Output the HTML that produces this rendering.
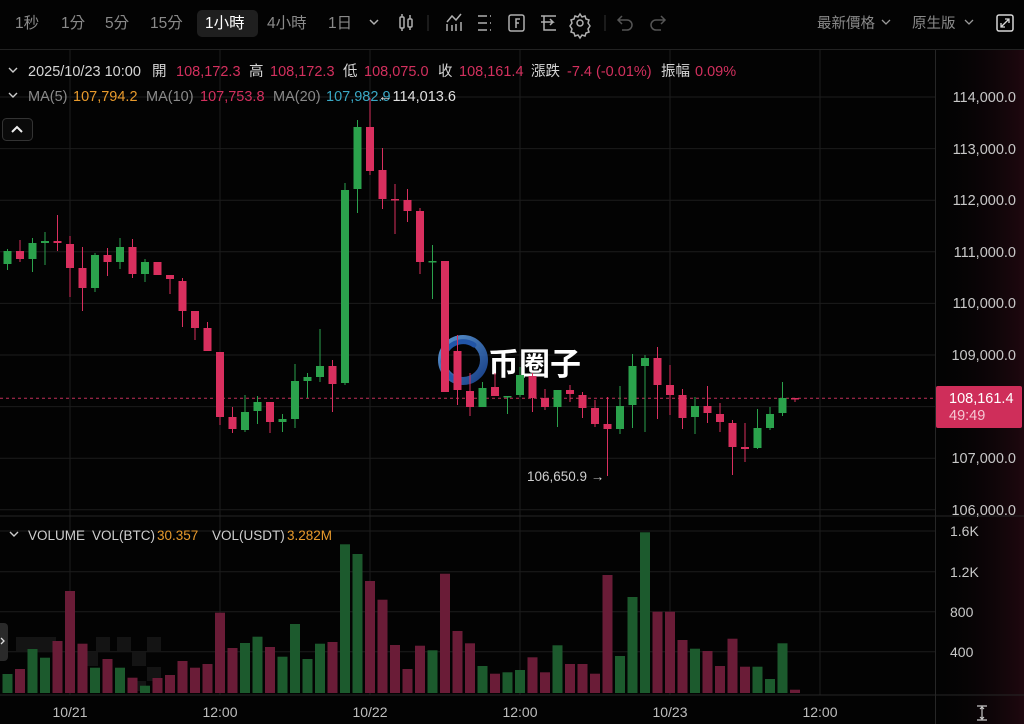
<!DOCTYPE html>
<html><head><meta charset="utf-8"><style>
html,body{margin:0;padding:0;background:#030303;}
svg{display:block;}
text{font-family:"Liberation Sans","Noto Sans CJK TC",sans-serif;}
</style></head><body>
<svg width="1024" height="724" viewBox="0 0 1024 724" xmlns="http://www.w3.org/2000/svg">
<defs>
<linearGradient id="rg" x1="0" y1="0" x2="1" y2="0">
<stop offset="0" stop-color="#030303" stop-opacity="0"/>
<stop offset="1" stop-color="#2a0a14" stop-opacity="0.7"/>
</linearGradient>
<linearGradient id="lg" x1="0" y1="0" x2="1" y2="1">
<stop offset="0" stop-color="#6fb6ff"/>
<stop offset="1" stop-color="#1d4fa8"/>
</linearGradient>
</defs>
<rect width="1024" height="724" fill="#030303"/>
<rect x="936" y="50" width="88" height="674" fill="url(#rg)"/>

<!-- toolbar -->
<g font-size="15.5" fill="#8a8a8a">
<text x="15" y="28">1秒</text>
<text x="61" y="28">1分</text>
<text x="105" y="28">5分</text>
<text x="150" y="28">15分</text>
<rect x="197" y="10" width="61" height="27" rx="5" fill="#1f1f1f"/>
<text x="205" y="28" fill="#ffffff">1小時</text>
<text x="267" y="28">4小時</text>
<text x="328" y="28">1日</text>
</g>
<g fill="none" stroke="#b0b0b0" stroke-width="1.5">
<path d="M370 20 L374 24 L378 20"/>
<rect x="400" y="17" width="4" height="11" rx="1"/><path d="M402 14v3M402 28v3"/>
<rect x="408" y="19" width="4" height="8" rx="1"/><path d="M410 15v4M410 27v3"/>
<path d="M447 31 L447 24 M447 22 L452 16 L456 20 L461 14 M452 31v-6 M456 31v-7 M461 31v-9"/>
<path d="M478 16h9 M478 23h9 M478 30h9 M490 16h1 M490 23h1 M490 30h1"/>
<rect x="509" y="15" width="15" height="16" rx="2"/><path d="M520 19 h-4 v9 M516 23 h3"/>
<path d="M541 16h15 M541 22h12 l-3 -3 M553 22 l-3 3 M544 16v14 h12"/>
<circle cx="580" cy="23" r="3"/>
<path d="M580 14 l2 3 3 -1 1 3 3 1 -1 3 2 3 -2 3 1 3 -3 1 -1 3 -3 -1 -2 3 -2 -3 -3 1 -1 -3 -3 -1 1 -3 -2 -3 2 -3 -1 -3 3 -1 1 -3 3 1z"/>
</g>
<line x1="605" y1="15" x2="605" y2="31" stroke="#333"/>
<line x1="428" y1="15" x2="428" y2="31" stroke="#333"/>
<g fill="none" stroke="#555" stroke-width="1.5">
<path d="M622 16 l-4 4 4 4 M618 20 h9 a5 5 0 0 1 0 10 h-5"/>
<path d="M661 16 l4 4 -4 4 M665 20 h-9 a5 5 0 0 0 0 10 h5"/>
</g>
<g font-size="14.5" fill="#8a8a8a">
<text x="817" y="28">最新價格</text>
<text x="912" y="28">原生版</text>
</g>
<g fill="none" stroke="#9a9a9a" stroke-width="1.3">
<path d="M882 20 L886 24 L890 20"/>
<path d="M965 20 L969 24 L973 20"/>
</g>
<rect x="997" y="15" width="16" height="16" rx="2" fill="none" stroke="#d8d8d8" stroke-width="1.5"/>
<path d="M1001 27 l8 -8 M1005 19 h4 v4 M1001 23 v4 h4" fill="none" stroke="#d8d8d8" stroke-width="1.3"/>

<line x1="0" y1="49.5" x2="1024" y2="49.5" stroke="#222"/>

<!-- grid -->
<g stroke="#1c1c1c" stroke-width="1">
<line x1="0" x2="935" y1="97" y2="97"/>
<line x1="0" x2="935" y1="148.6" y2="148.6"/>
<line x1="0" x2="935" y1="200.2" y2="200.2"/>
<line x1="0" x2="935" y1="251.8" y2="251.8"/>
<line x1="0" x2="935" y1="303.4" y2="303.4"/>
<line x1="0" x2="935" y1="355" y2="355"/>
<line x1="0" x2="935" y1="406.6" y2="406.6"/>
<line x1="0" x2="935" y1="458.2" y2="458.2"/>
<line x1="0" x2="935" y1="509.8" y2="509.8"/>
<line x1="0" x2="935" y1="531" y2="531"/>
<line x1="0" x2="935" y1="571.7" y2="571.7"/>
<line x1="0" x2="935" y1="611.7" y2="611.7"/>
<line x1="0" x2="935" y1="651.7" y2="651.7"/>
<line x1="70" x2="70" y1="50" y2="695"/>
<line x1="220" x2="220" y1="50" y2="695"/>
<line x1="370" x2="370" y1="50" y2="695"/>
<line x1="520" x2="520" y1="50" y2="695"/>
<line x1="670" x2="670" y1="50" y2="695"/>
<line x1="820" x2="820" y1="50" y2="695"/>
</g>
<line x1="0" x2="1024" y1="516" y2="516" stroke="#262626"/>
<line x1="0" x2="1024" y1="695" y2="695" stroke="#262626"/>
<line x1="935.5" x2="935.5" y1="50" y2="724" stroke="#262626"/>

<!-- info rows -->
<g font-size="14.5">
<path d="M9 68 l4 4 4 -4" fill="none" stroke="#ccc" stroke-width="1.4"/>
<text x="28" y="76" fill="#d6d6d6">2025/10/23 10:00</text>
<text x="152" y="76" fill="#d6d6d6">開</text>
<text x="176" y="76" fill="#d3305e">108,172.3</text>
<text x="249" y="76" fill="#d6d6d6">高</text>
<text x="270" y="76" fill="#d3305e">108,172.3</text>
<text x="343" y="76" fill="#d6d6d6">低</text>
<text x="364" y="76" fill="#d3305e">108,075.0</text>
<text x="438" y="76" fill="#d6d6d6">收</text>
<text x="459" y="76" fill="#d3305e">108,161.4</text>
<text x="531" y="76" fill="#d6d6d6">漲跌</text>
<text x="567" y="76" fill="#d3305e">-7.4 (-0.01%)</text>
<text x="661" y="76" fill="#d6d6d6">振幅</text>
<text x="695" y="76" fill="#d3305e">0.09%</text>
<path d="M9 93 l4 4 4 -4" fill="none" stroke="#ccc" stroke-width="1.4"/>
<text x="28" y="101" fill="#8a8a8a">MA(5)</text>
<text x="73" y="101" fill="#e89a2c">107,794.2</text>
<text x="146" y="101" fill="#8a8a8a">MA(10)</text>
<text x="200" y="101" fill="#d3305e">107,753.8</text>
<text x="273" y="101" fill="#8a8a8a">MA(20)</text>
<text x="326" y="101" fill="#3aa8c4">107,982.9</text>
<text x="378" y="101" fill="#e0e0e0">←114,013.6</text>
</g>

<!-- collapse button -->
<rect x="2.5" y="118.5" width="30" height="22" rx="4" fill="#0a0a0a" stroke="#333"/>
<path d="M12 132 l5 -5 5 5" fill="none" stroke="#eee" stroke-width="2"/>

<!-- price line -->
<line x1="0" x2="935" y1="398.3" y2="398.3" stroke="#c2305a" stroke-width="1" stroke-dasharray="3 3"/>

<!-- watermark -->
<g opacity="0.8">
<circle cx="463" cy="360" r="21" fill="none" stroke="url(#lg)" stroke-width="8"/>
<path d="M452 378 A14 14 0 0 1 474 345" fill="none" stroke="#2a6ad0" stroke-width="5" stroke-linecap="round"/>
</g>
<text x="488" y="375" font-size="31" font-weight="bold" fill="#ffffff" font-family="'Noto Sans CJK SC','WenQuanYi Zen Hei',sans-serif">币圈子</text>

<!-- candles green -->
<g fill="#2ba24c">
<rect x="7" y="249" width="1" height="21"/><rect x="3.5" y="251" width="8" height="13"/>
<rect x="32" y="238" width="1" height="34"/><rect x="28.5" y="243" width="8" height="16"/>
<rect x="44.5" y="232" width="1" height="33"/><rect x="41" y="241" width="8" height="2"/>
<rect x="94.5" y="253" width="1" height="39"/><rect x="91" y="255" width="8" height="33"/>
<rect x="119.5" y="238" width="1" height="31"/><rect x="116" y="247" width="8" height="15"/>
<rect x="144.5" y="259" width="1" height="23"/><rect x="141" y="262" width="8" height="12"/>
<rect x="244.5" y="395" width="1" height="37"/><rect x="241" y="412" width="8" height="18"/>
<rect x="257" y="396" width="1" height="28"/><rect x="253.5" y="402" width="8" height="9"/>
<rect x="282" y="414" width="1" height="18"/><rect x="278.5" y="419" width="8" height="3"/>
<rect x="294.5" y="364" width="1" height="64"/><rect x="291" y="381" width="8" height="38"/>
<rect x="307" y="373" width="1" height="25"/><rect x="303.5" y="377" width="8" height="4"/>
<rect x="319.5" y="329" width="1" height="53"/><rect x="316" y="366" width="8" height="11"/>
<rect x="344.5" y="183" width="1" height="202"/><rect x="341" y="190" width="8" height="193"/>
<rect x="357" y="120" width="1" height="93"/><rect x="353.5" y="127" width="8" height="62"/>
<rect x="432" y="245" width="1" height="54"/><rect x="428.5" y="261" width="8" height="1.5"/>
<rect x="482" y="382" width="1" height="25"/><rect x="478.5" y="388" width="8" height="19"/>
<rect x="507" y="396" width="1" height="18"/><rect x="503.5" y="396" width="8" height="1.5"/>
<rect x="519.5" y="367" width="1" height="30"/><rect x="516" y="375" width="8" height="20"/>
<rect x="557" y="390" width="1" height="37"/><rect x="553.5" y="390" width="8" height="17"/>
<rect x="619.5" y="386" width="1" height="48"/><rect x="616" y="406" width="8" height="23"/>
<rect x="632" y="354" width="1" height="74"/><rect x="628.5" y="366" width="8" height="39"/>
<rect x="644.5" y="355" width="1" height="77"/><rect x="641" y="358" width="8" height="8"/>
<rect x="694.5" y="397" width="1" height="37"/><rect x="691" y="406" width="8" height="11"/>
<rect x="757" y="409" width="1" height="40"/><rect x="753.5" y="428" width="8" height="20"/>
<rect x="769.5" y="407" width="1" height="23"/><rect x="766" y="414" width="8" height="14"/>
<rect x="782" y="382" width="1" height="34"/><rect x="778.5" y="398" width="8" height="15"/>
</g>
<!-- candles red -->
<g fill="#d92f5e">
<rect x="19.5" y="240" width="1" height="22"/><rect x="16" y="251" width="8" height="8"/>
<rect x="57" y="215" width="1" height="36"/><rect x="53.5" y="241" width="8" height="2"/>
<rect x="69.5" y="236" width="1" height="61"/><rect x="66" y="244" width="8" height="24"/>
<rect x="82" y="247" width="1" height="64"/><rect x="78.5" y="268" width="8" height="20"/>
<rect x="107" y="248" width="1" height="28"/><rect x="103.5" y="255" width="8" height="7"/>
<rect x="132" y="239" width="1" height="39"/><rect x="128.5" y="247" width="8" height="27"/>
<rect x="153.5" y="262" width="8" height="13"/>
<rect x="169.5" y="275" width="1" height="19"/><rect x="166" y="275" width="8" height="4"/>
<rect x="182" y="278" width="1" height="49"/><rect x="178.5" y="281" width="8" height="30"/>
<rect x="194.5" y="311" width="1" height="29"/><rect x="191" y="311" width="8" height="17"/>
<rect x="207" y="322" width="1" height="29"/><rect x="203.5" y="328" width="8" height="23"/>
<rect x="219.5" y="352" width="1" height="73"/><rect x="216" y="352" width="8" height="65"/>
<rect x="232" y="407" width="1" height="26"/><rect x="228.5" y="417" width="8" height="12"/>
<rect x="269.5" y="402" width="1" height="31"/><rect x="266" y="402" width="8" height="20"/>
<rect x="332" y="360" width="1" height="52"/><rect x="328.5" y="366" width="8" height="18"/>
<rect x="369.5" y="98" width="1" height="77"/><rect x="366" y="127" width="8" height="44"/>
<rect x="382" y="148" width="1" height="61"/><rect x="378.5" y="170" width="8" height="29"/>
<rect x="394.5" y="184" width="1" height="50"/><rect x="391" y="199" width="8" height="1.5"/>
<rect x="407" y="189" width="1" height="33"/><rect x="403.5" y="200" width="8" height="11"/>
<rect x="419.5" y="208" width="1" height="66"/><rect x="416" y="211" width="8" height="51"/>
<rect x="441" y="261" width="8" height="131"/>
<rect x="457" y="335" width="1" height="70"/><rect x="453.5" y="351" width="8" height="39"/>
<rect x="469.5" y="373" width="1" height="43"/><rect x="466" y="391" width="8" height="16"/>
<rect x="494.5" y="373" width="1" height="23"/><rect x="491" y="387" width="8" height="9"/>
<rect x="532" y="373" width="1" height="39"/><rect x="528.5" y="376" width="8" height="22"/>
<rect x="544.5" y="389" width="1" height="21"/><rect x="541" y="398" width="8" height="9"/>
<rect x="569.5" y="385" width="1" height="17"/><rect x="566" y="390" width="8" height="4"/>
<rect x="582" y="392" width="1" height="26"/><rect x="578.5" y="395" width="8" height="13"/>
<rect x="594.5" y="400" width="1" height="27"/><rect x="591" y="408" width="8" height="16"/>
<rect x="607" y="397" width="1" height="79"/><rect x="603.5" y="424" width="8" height="5"/>
<rect x="657" y="347" width="1" height="72"/><rect x="653.5" y="358" width="8" height="27"/>
<rect x="669.5" y="365" width="1" height="50"/><rect x="666" y="385" width="8" height="10"/>
<rect x="682" y="389" width="1" height="40"/><rect x="678.5" y="395" width="8" height="23"/>
<rect x="707" y="386" width="1" height="37"/><rect x="703.5" y="406" width="8" height="7"/>
<rect x="719.5" y="403" width="1" height="29"/><rect x="716" y="414" width="8" height="8"/>
<rect x="732" y="420" width="1" height="55"/><rect x="728.5" y="423" width="8" height="24"/>
<rect x="744.5" y="423" width="1" height="39"/><rect x="741" y="447" width="8" height="2"/>
<rect x="794.5" y="398" width="1" height="4"/><rect x="791" y="398" width="8" height="1.5"/>
</g>

<text x="527" y="481" font-size="13.5" fill="#cfcfcf">106,650.9 →</text>

<!-- price axis labels -->
<g font-size="14.5" fill="#c8c8c8" text-anchor="end">
<text x="1016" y="102">114,000.0</text>
<text x="1016" y="154">113,000.0</text>
<text x="1016" y="205">112,000.0</text>
<text x="1016" y="257">111,000.0</text>
<text x="1016" y="308">110,000.0</text>
<text x="1016" y="360">109,000.0</text>
<text x="1016" y="463">107,000.0</text>
<text x="1016" y="515">106,000.0</text>
</g>
<rect x="936" y="386" width="86" height="42" rx="2" fill="#cf2e5a"/>
<text x="949" y="403" font-size="14.5" fill="#ffffff">108,161.4</text>
<text x="949" y="420" font-size="14.5" fill="#f5c6d3">49:49</text>

<!-- volume header -->
<g font-size="13.5">
<path d="M10 532 l4 4 4 -4" fill="none" stroke="#ccc" stroke-width="1.4"/>
<text x="28" y="540" fill="#cfcfcf">VOLUME</text>
<text x="92" y="540" fill="#cfcfcf">VOL(BTC)</text>
<text x="157" y="540" fill="#e89a2c">30.357</text>
<text x="212" y="540" fill="#cfcfcf">VOL(USDT)</text>
<text x="287" y="540" fill="#e89a2c">3.282M</text>
</g>

<!-- checker overlay -->
<g fill="#141414">
<rect x="16" y="637" width="20" height="14"/><rect x="36" y="637" width="20" height="14"/>
<rect x="96" y="637" width="14" height="14"/><rect x="117" y="637" width="14" height="14"/><rect x="147" y="637" width="14" height="14"/>
<rect x="132" y="652" width="14" height="14"/><rect x="86" y="652" width="12" height="14"/>
<rect x="147" y="667" width="14" height="14"/><rect x="132" y="681" width="14" height="10"/>
</g>

<!-- volume bars green -->
<g fill="#1c5a2d">
<rect x="2.5" y="674" width="10" height="19"/>
<rect x="27.5" y="649" width="10" height="44"/>
<rect x="40" y="657.7" width="10" height="35.3"/>
<rect x="90" y="667.7" width="10" height="25.3"/>
<rect x="115" y="667.7" width="10" height="25.3"/>
<rect x="140" y="685.7" width="10" height="7.3"/>
<rect x="240" y="643" width="10" height="50"/>
<rect x="252.5" y="636.7" width="10" height="56.3"/>
<rect x="277.5" y="656.7" width="10" height="36.3"/>
<rect x="290" y="624" width="10" height="69"/>
<rect x="302.5" y="659" width="10" height="34"/>
<rect x="315" y="643.7" width="10" height="49.3"/>
<rect x="340" y="544.3" width="10" height="148.7"/>
<rect x="352.5" y="554" width="10" height="139"/>
<rect x="427.5" y="650.3" width="10" height="42.7"/>
<rect x="477.5" y="666" width="10" height="27"/>
<rect x="502.5" y="672.3" width="10" height="20.7"/>
<rect x="515" y="670" width="10" height="23"/>
<rect x="552.5" y="645.3" width="10" height="47.7"/>
<rect x="615" y="656" width="10" height="37"/>
<rect x="627.5" y="597" width="10" height="96"/>
<rect x="640" y="532.3" width="10" height="160.7"/>
<rect x="690" y="648.7" width="10" height="44.3"/>
<rect x="752.5" y="666.7" width="10" height="26.3"/>
<rect x="765" y="679" width="10" height="14"/>
<rect x="777.5" y="643.3" width="10" height="49.7"/>
</g>
<!-- volume bars red -->
<g fill="#6a1c37">
<rect x="15" y="669" width="10" height="24"/>
<rect x="52.5" y="641" width="10" height="52"/>
<rect x="65" y="591" width="10" height="102"/>
<rect x="77.5" y="643.7" width="10" height="49.3"/>
<rect x="102.5" y="659" width="10" height="34"/>
<rect x="127.5" y="677.7" width="10" height="15.3"/>
<rect x="152.5" y="678" width="10" height="15"/>
<rect x="165" y="675" width="10" height="18"/>
<rect x="177.5" y="661" width="10" height="32"/>
<rect x="190" y="667.7" width="10" height="25.3"/>
<rect x="202.5" y="664" width="10" height="29"/>
<rect x="215" y="612.7" width="10" height="80.3"/>
<rect x="227.5" y="648" width="10" height="45"/>
<rect x="265" y="647" width="10" height="46"/>
<rect x="327.5" y="642" width="10" height="51"/>
<rect x="365" y="581" width="10" height="112"/>
<rect x="377.5" y="599.7" width="10" height="93.3"/>
<rect x="390" y="645" width="10" height="48"/>
<rect x="402.5" y="669" width="10" height="24"/>
<rect x="415" y="645.7" width="10" height="47.3"/>
<rect x="440" y="573.7" width="10" height="119.3"/>
<rect x="452.5" y="631" width="10" height="62"/>
<rect x="465" y="643.3" width="10" height="49.7"/>
<rect x="490" y="673.7" width="10" height="19.3"/>
<rect x="527.5" y="657.3" width="10" height="35.7"/>
<rect x="540" y="672.3" width="10" height="20.7"/>
<rect x="565" y="664" width="10" height="29"/>
<rect x="577.5" y="664" width="10" height="29"/>
<rect x="590" y="673.7" width="10" height="19.3"/>
<rect x="602.5" y="575" width="10" height="118"/>
<rect x="652.5" y="611.7" width="10" height="81.3"/>
<rect x="665" y="611.7" width="10" height="81.3"/>
<rect x="677.5" y="640" width="10" height="53"/>
<rect x="702.5" y="651" width="10" height="42"/>
<rect x="715" y="666" width="10" height="27"/>
<rect x="727.5" y="638.7" width="10" height="54.3"/>
<rect x="740" y="666.7" width="10" height="26.3"/>
<rect x="790" y="689.7" width="10" height="3.3"/>
</g>

<!-- left tab -->
<rect x="-6" y="623" width="14" height="38" rx="4" fill="#2a2a2a"/>
<path d="M1 638 l3 3 -3 3" fill="none" stroke="#ddd" stroke-width="1.3"/>

<!-- volume axis labels -->
<g font-size="14" fill="#c8c8c8">
<text x="950" y="536">1.6K</text>
<text x="950" y="577">1.2K</text>
<text x="950" y="617">800</text>
<text x="950" y="657">400</text>
</g>

<!-- time axis -->
<g font-size="14" fill="#bdbdbd" text-anchor="middle">
<text x="70" y="717">10/21</text>
<text x="220" y="717">12:00</text>
<text x="370" y="717">10/22</text>
<text x="520" y="717">12:00</text>
<text x="670" y="717">10/23</text>
<text x="820" y="717">12:00</text>
</g>
<g fill="none" stroke="#c8c8c8" stroke-width="1.2">
<path d="M977 706 h10 M977 720 h10 M982 707 v12 M980 709 l2 -2 2 2 M980 717 l2 2 2 -2"/>
</g>
</svg>
</body></html>
